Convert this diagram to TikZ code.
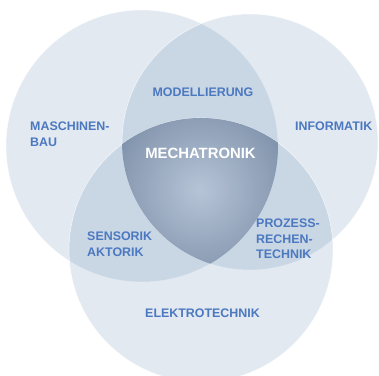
\documentclass[tikz,border=0pt]{standalone}
\usepackage{fontspec}
\setmainfont{Liberation Sans}
\definecolor{kreisblau}{RGB}{75,123,171}
\definecolor{schriftblau}{RGB}{76,120,192}
\definecolor{kernaussen}{RGB}{78,100,132}
\definecolor{kerninnen}{RGB}{182,196,214}
\begin{document}
\begin{tikzpicture}[x=0.03cm, y=0.03cm,
  kreis/.style={fill=kreisblau, fill opacity=0.16, draw=white, draw opacity=0.7, line width=0.5pt},
  fach/.style={text=schriftblau, font=\fontsize{10.6}{13.2}\selectfont\bfseries, align=left, inner sep=0pt}]
 \useasboundingbox (0,0) rectangle (379,376);
 \fill[white] (0,0) rectangle (379,376);

 \coordinate (mb) at (142,230);
 \coordinate (inf) at (250,234);
 \coordinate (et) at (201,126);

 \filldraw[kreis] (mb) circle (136);
 \filldraw[kreis] (inf) circle (128);
 \filldraw[kreis] (et) circle (132);

 \begin{scope}
  \clip (mb) circle (136);
  \clip (inf) circle (128);
  \clip (et) circle (132);
  \shade[inner color=kerninnen, outer color=kernaussen] (200,186) circle (180);
 \end{scope}

 \node[fach, anchor=north west] (maschinenbau) at (30,254) {MASCHINEN-\\BAU};
 \node[fach, anchor=north west] (informatik) at (295,254) {INFORMATIK};
 \node[fach] (modellierung) at (203,283.5) {MODELLIERUNG};
 \node[fach, anchor=north west] (sensorik) at (87,144) {SENSORIK\\AKTORIK};
 \node[fach, anchor=north west] (prozess) at (256,157) {PROZESS-\\RECHEN-\\TECHNIK};
 \node[fach] (elektrotechnik) at (202.5,63) {ELEKTROTECHNIK};
 \node[fach, text=white, font=\fontsize{12.7}{15}\selectfont\bfseries] (mechatronik) at (200.5,222.5) {MECHATRONIK};
\end{tikzpicture}
\end{document}
